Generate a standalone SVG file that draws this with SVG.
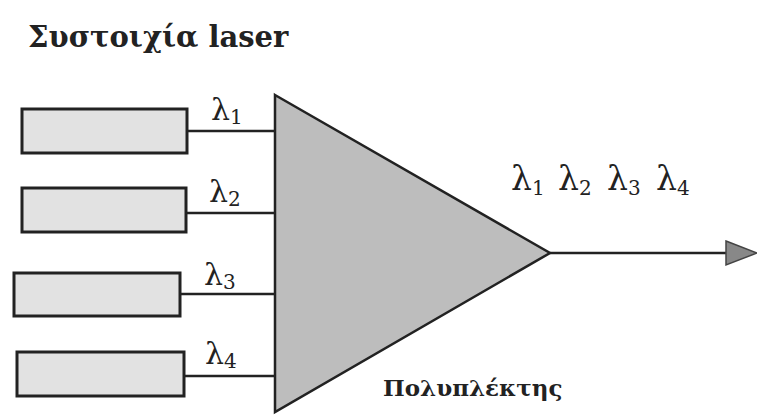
<svg xmlns="http://www.w3.org/2000/svg" width="757" height="415" viewBox="0 0 757 415">
<style>
.laser{fill:#e2e2e2;stroke:#222;stroke-width:3}
.wire{stroke:#222;stroke-width:2.5;fill:none}
.lab{font-family:"DejaVu Serif","Liberation Serif",serif;font-size:30px;fill:#222}
.big{font-size:33px}
.sub{font-size:20px}
.title{font-family:"DejaVu Serif","Liberation Serif",serif;font-size:29px;font-weight:bold;fill:#222}
</style>
<rect width="757" height="415" fill="#fff"/>
<text class="title" x="28" y="47">Συστοιχία laser</text>
<g id="laser1"><rect class="laser" x="22" y="109" width="165" height="44"/></g>
<g id="laser2"><rect class="laser" x="22" y="188" width="164" height="44"/></g>
<g id="laser3"><rect class="laser" x="14" y="273" width="166" height="43"/></g>
<g id="laser4"><rect class="laser" x="17" y="352" width="167" height="44"/></g>
<g id="mux">
<polygon points="275,95 550,253 275,412" fill="#bdbdbd" stroke="#222" stroke-width="2.5"/>
<text class="title" x="383" y="396" style="font-size:23px">Πολυπλέκτης</text>
</g>
<g id="connectors">
<line class="wire" x1="187" y1="131" x2="275" y2="131"/>
<line class="wire" x1="186" y1="213" x2="275" y2="213"/>
<line class="wire" x1="180" y1="294" x2="275" y2="294"/>
<line class="wire" x1="184" y1="376" x2="275" y2="376"/>
<line class="wire" x1="550" y1="253" x2="728" y2="253"/>
<polygon points="726,241 757,253 726,265" fill="#888" stroke="#444" stroke-width="1.5"/>
</g>
<g id="labels">
<text class="lab" x="211" y="120">λ<tspan class="sub" dy="4">1</tspan></text>
<text class="lab" x="209" y="202">λ<tspan class="sub" dy="4">2</tspan></text>
<text class="lab" x="204" y="285">λ<tspan class="sub" dy="4">3</tspan></text>
<text class="lab" x="205" y="364">λ<tspan class="sub" dy="4">4</tspan></text>
<text class="lab big" x="511" y="190">λ<tspan class="sub" dy="5">1</tspan><tspan x="558" dy="-5">λ</tspan><tspan class="sub" dy="5">2</tspan><tspan x="607" dy="-5">λ</tspan><tspan class="sub" dy="5">3</tspan><tspan x="656" dy="-5">λ</tspan><tspan class="sub" dy="5">4</tspan></text>
</g>
</svg>
